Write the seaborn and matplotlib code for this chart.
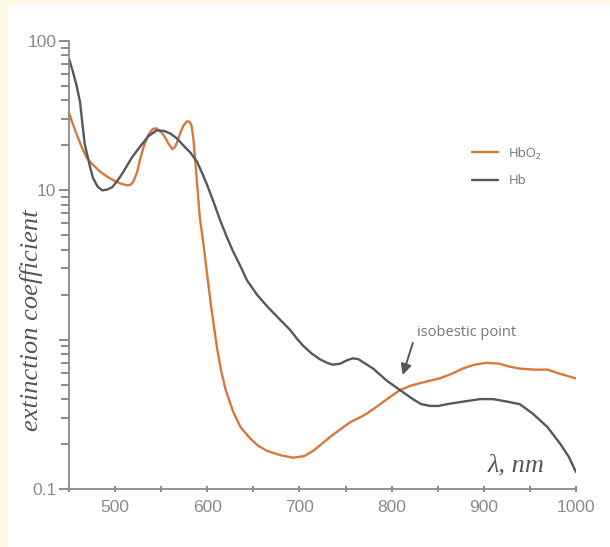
import numpy as np
import pandas as pd
import seaborn as sns
import matplotlib.pyplot as plt
from matplotlib.ticker import FixedLocator

# wavelength (nm) and extinction values
hbo2_nm = [450, 454, 458, 463, 469, 476, 484, 491, 498, 506, 513, 517, 520,
           524, 527, 531, 536, 541, 545, 549, 553, 558, 562, 565, 568, 571,
           574, 578, 581, 583, 585, 587, 589, 592, 596, 598, 601, 604, 607,
           611, 615, 620, 628, 636, 646, 655, 665, 680, 693, 705, 715, 726,
           736, 746, 755, 765, 773, 785, 795, 809, 820, 830, 841, 852, 865,
           877, 890, 903, 917, 928, 939, 955, 969, 983, 1000]
hbo2_val = [33, 28, 24, 20, 16.6, 14.8, 13.3, 12.4, 11.7, 11.1, 10.8, 10.9,
            11.5, 13.3, 16, 19.6, 23.5, 25.8, 26, 24.8, 23.3, 20.5, 18.9, 19.5,
            21.6, 24.5, 27, 29, 28.7, 27, 22, 15.5, 11, 6.5, 4.3, 3.4, 2.4,
            1.7, 1.25, 0.85, 0.62, 0.46, 0.33, 0.26, 0.22, 0.195, 0.18, 0.168,
            0.162, 0.166, 0.18, 0.205, 0.23, 0.255, 0.28, 0.30, 0.32, 0.36,
            0.40, 0.46, 0.49, 0.51, 0.53, 0.55, 0.59, 0.64, 0.68, 0.70, 0.69,
            0.66, 0.64, 0.63, 0.63, 0.59, 0.55]

hb_nm = [450, 454, 458, 462, 464.5, 467, 473, 476, 481, 486, 491, 497, 503,
         509, 518, 527, 536, 545, 553, 560, 567, 574, 582, 589, 595, 600, 607,
         614, 621, 628, 636, 643, 654, 665, 678, 690, 697, 704, 713, 722,
         730, 736, 744, 752, 758, 764, 770, 780, 795, 809, 823, 832, 842,
         851, 860, 878, 896, 910, 925, 939, 953, 969, 983, 992, 1000]
hb_val = [76, 63, 51, 39, 28, 20.5, 14.2, 12.1, 10.6, 10, 10.1, 10.5, 11.7,
          13.3, 16.5, 19.6, 23, 25.2, 25, 24, 22.3, 20, 17.8, 15.5, 12.8, 10.8,
          8.3, 6.3, 4.9, 3.9, 3.1, 2.5, 2.0, 1.67, 1.38, 1.16, 1.02, 0.91,
          0.81, 0.74, 0.70, 0.68, 0.69, 0.73, 0.75, 0.74, 0.70, 0.64, 0.53,
          0.46, 0.40, 0.37, 0.36, 0.36, 0.37, 0.385, 0.40, 0.40, 0.385, 0.37,
          0.32, 0.26, 0.20, 0.165, 0.13]

y_labelled = [0.1, 10, 100]
x_labelled = [500, 600, 700, 800, 900, 1000]

df = pd.concat([
    pd.DataFrame({"nm": hbo2_nm, "val": hbo2_val, "s": "HbO\u2082"}),
    pd.DataFrame({"nm": hb_nm, "val": hb_val, "s": "Hb"}),
])

sns.set_style("ticks")
plt.rcParams["font.family"] = ["Liberation Sans Narrow", "Liberation Sans", "DejaVu Sans"]

fig = plt.figure(figsize=(6.1, 5.47), dpi=100, facecolor="#fff9e6")

# white panel inside the cream frame
bg = fig.add_axes([8 / 610, 0, 1 - 8 / 610, 1 - 5 / 547], zorder=-1)
bg.set_facecolor("white")
bg.set_xticks([])
bg.set_yticks([])
for s in bg.spines.values():
    s.set_visible(False)

ax = fig.add_axes([69 / 610, 1 - 489 / 547, 507 / 610, 448 / 547], zorder=1)
ax.set_facecolor("none")

sns.lineplot(data=df, x="nm", y="val", hue="s", sort=False, estimator=None,
             palette={"HbO\u2082": "#d9783a", "Hb": "#55595d"}, linewidth=1.7, ax=ax)
for ln in ax.lines:
    ln.set_solid_joinstyle("round")

ax.set_yscale("log")
ax.set_ylim(0.1, 100)
ax.set_xlim(450, 1000)

# every log tick as a major tick, labels only on 0.1, 10, 100
yt = [m * 10.0 ** e for e in (-1, 0, 1) for m in range(1, 10)] + [100]
ax.yaxis.set_major_locator(FixedLocator(yt))
ax.set_yticklabels([("%g" % v) if any(np.isclose(v, y_labelled)) else "" for v in yt])
ax.minorticks_off()

xt = list(range(450, 1001, 50))
ax.xaxis.set_major_locator(FixedLocator(xt))
ax.set_xticklabels([str(v) if v in x_labelled else "" for v in xt])

for s in ["top", "right"]:
    ax.spines[s].set_visible(False)
for s in ["left", "bottom"]:
    ax.spines[s].set_color("#8a8a8a")
    ax.spines[s].set_linewidth(1.3)
ax.tick_params(axis="both", colors="#777777", labelcolor="#8a8a8a",
               labelsize=12.5, width=1.2)
ax.tick_params(axis="x", length=4.5, direction="inout", pad=6)
ax.tick_params(axis="y", length=6, pad=3)
for v, t in zip(yt, ax.yaxis.get_major_ticks()):
    if any(np.isclose(v, y_labelled + [1])):
        t.tick1line.set_markersize(7.5)

ax.set_xlabel("")
ax.set_ylabel("")
fig.text(32 / 610, 1 - 320 / 547, "extinction coefficient",
         family=["Liberation Serif", "DejaVu Serif"], style="italic", fontsize=19,
         color="#555555", rotation=90, ha="center", va="center")
ax.text(966, 0.121, "\u03bb, nm", family=["Liberation Serif", "DejaVu Serif"],
        style="italic", fontsize=19, color="#555555", ha="right", va="bottom")

ax.text(827, 1.0, "isobestic point", fontsize=10.5, color="#777777",
        family=["Open Sans", "DejaVu Sans"], ha="left", va="bottom")
ax.annotate("", xy=(812, 0.58), xytext=(823, 0.95),
            arrowprops=dict(arrowstyle="-|>", color="#555555", lw=1.4,
                            mutation_scale=16, shrinkA=0, shrinkB=0))

leg = ax.legend(loc="upper left", bbox_to_anchor=(460 / 610, 1 - 135 / 547),
                bbox_transform=fig.transFigure, frameon=False, handlelength=2.0,
                labelspacing=1.1, prop={"family": ["Open Sans", "DejaVu Sans"], "size": 9.5})
for t in leg.get_texts():
    t.set_color("#777777")

fig.savefig("out.png", dpi=100, facecolor=fig.get_facecolor())
